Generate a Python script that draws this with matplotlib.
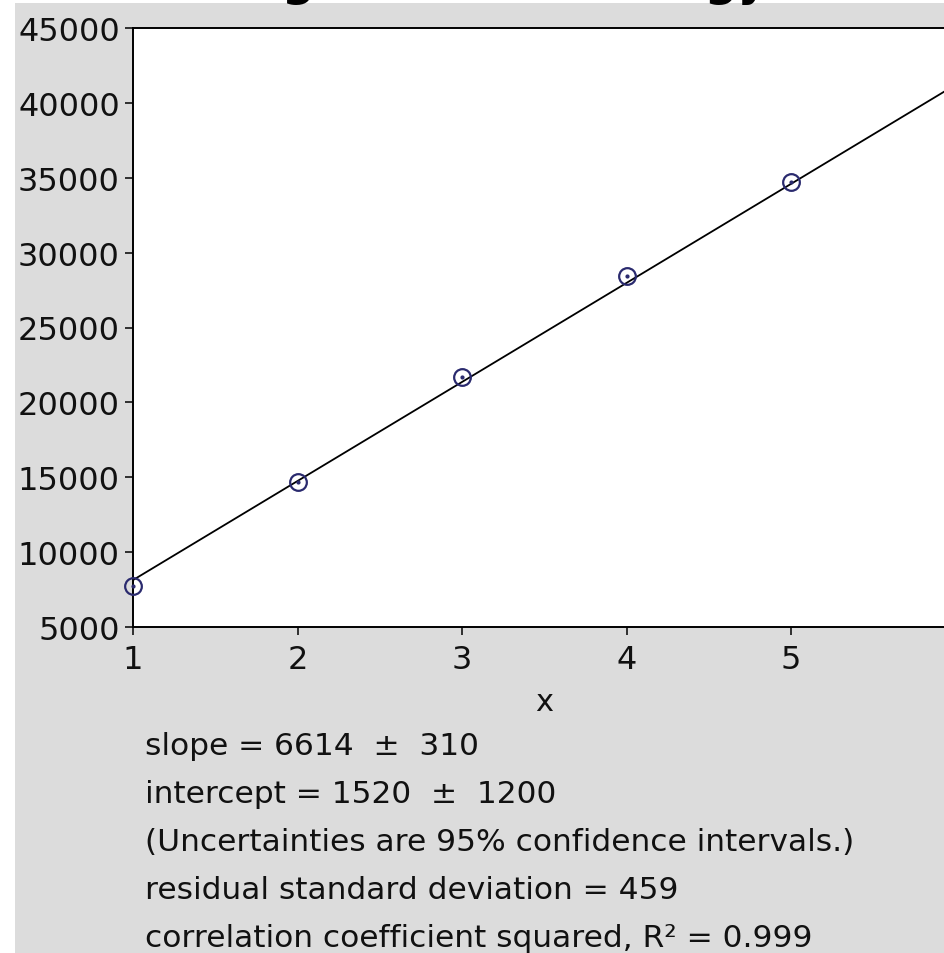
import numpy as np
import matplotlib
matplotlib.use('Agg')
import matplotlib.pyplot as plt
from matplotlib.patches import Rectangle

# data
x_vals = [1, 2, 3, 4, 5]
y_vals = [7740, 14680, 21700, 28440, 34720]
slope = 6614
intercept = 1520
x_ticks = [1, 2, 3, 4, 5, 6]
y_ticks = [5000, 10000, 15000, 20000, 25000, 30000, 35000, 40000, 45000]
title = 'Linear Regression of Energy'
stats_lines = [
    'slope = 6614  \u00b1  310',
    'intercept = 1520  \u00b1  1200',
    '(Uncertainties are 95% confidence intervals.)',
    'residual standard deviation = 459',
    'correlation coefficient squared, R\u00b2 = 0.999',
]

W, H = 945, 954
gray = '#dcdcdc'
navy = '#2a2a6e'

plt.rcParams['font.family'] = ['DejaVu Sans']

fig = plt.figure(figsize=(W / 100, H / 100), dpi=100)
fig.patch.set_facecolor('white')
fig.add_artist(Rectangle((15 / W, 0), 1, 1 - 4 / H, transform=fig.transFigure,
                         facecolor=gray, edgecolor='none', zorder=-1))

ax = fig.add_axes([133 / W, 1 - 628 / H, (955.5 - 133) / W, 599 / H])
ax.set_facecolor('white')

# fitted line
xl = np.array([x_ticks[0], x_ticks[-1]])
ax.plot(xl, slope * xl + intercept, color='black', lw=1.3, zorder=2)

# points: open circle with a dot in the middle
ax.plot(x_vals, y_vals, 'o', ms=12, mfc='none', mec=navy, mew=1.6, zorder=3, clip_on=False)
ax.plot(x_vals, y_vals, '.', ms=4, color=navy, zorder=4, clip_on=False)

ax.set_xlim(x_ticks[0], x_ticks[-1])
ax.set_ylim(y_ticks[0], y_ticks[-1])
ax.set_xticks(x_ticks)
ax.set_yticks(y_ticks)
ax.set_yticklabels([str(v) for v in y_ticks])
ax.tick_params(axis='both', direction='out', length=5.5, width=1.1, color='black',
               labelsize=23, labelcolor='#111111')
ax.tick_params(axis='x', pad=7)
ax.tick_params(axis='y', pad=4)
for s in ax.spines.values():
    s.set_linewidth(1.4)
    s.set_color('black')

ax.set_xlabel('x', fontsize=22, color='#111111', va='baseline')
ax.xaxis.set_label_coords(0.5, -(711 - 628) / 599)

# title sits mostly above the top edge, only descenders show
fig.text(37 / W, 1 + 5 / H, title, fontsize=33, fontweight='bold', color='black',
         ha='left', va='baseline')

for i, line in enumerate(stats_lines):
    fig.text(145 / W, 1 - (755 + 48 * i) / H, line, fontsize=22.5, color='#111111',
             ha='left', va='baseline')

fig.savefig('out.png', dpi=100)
